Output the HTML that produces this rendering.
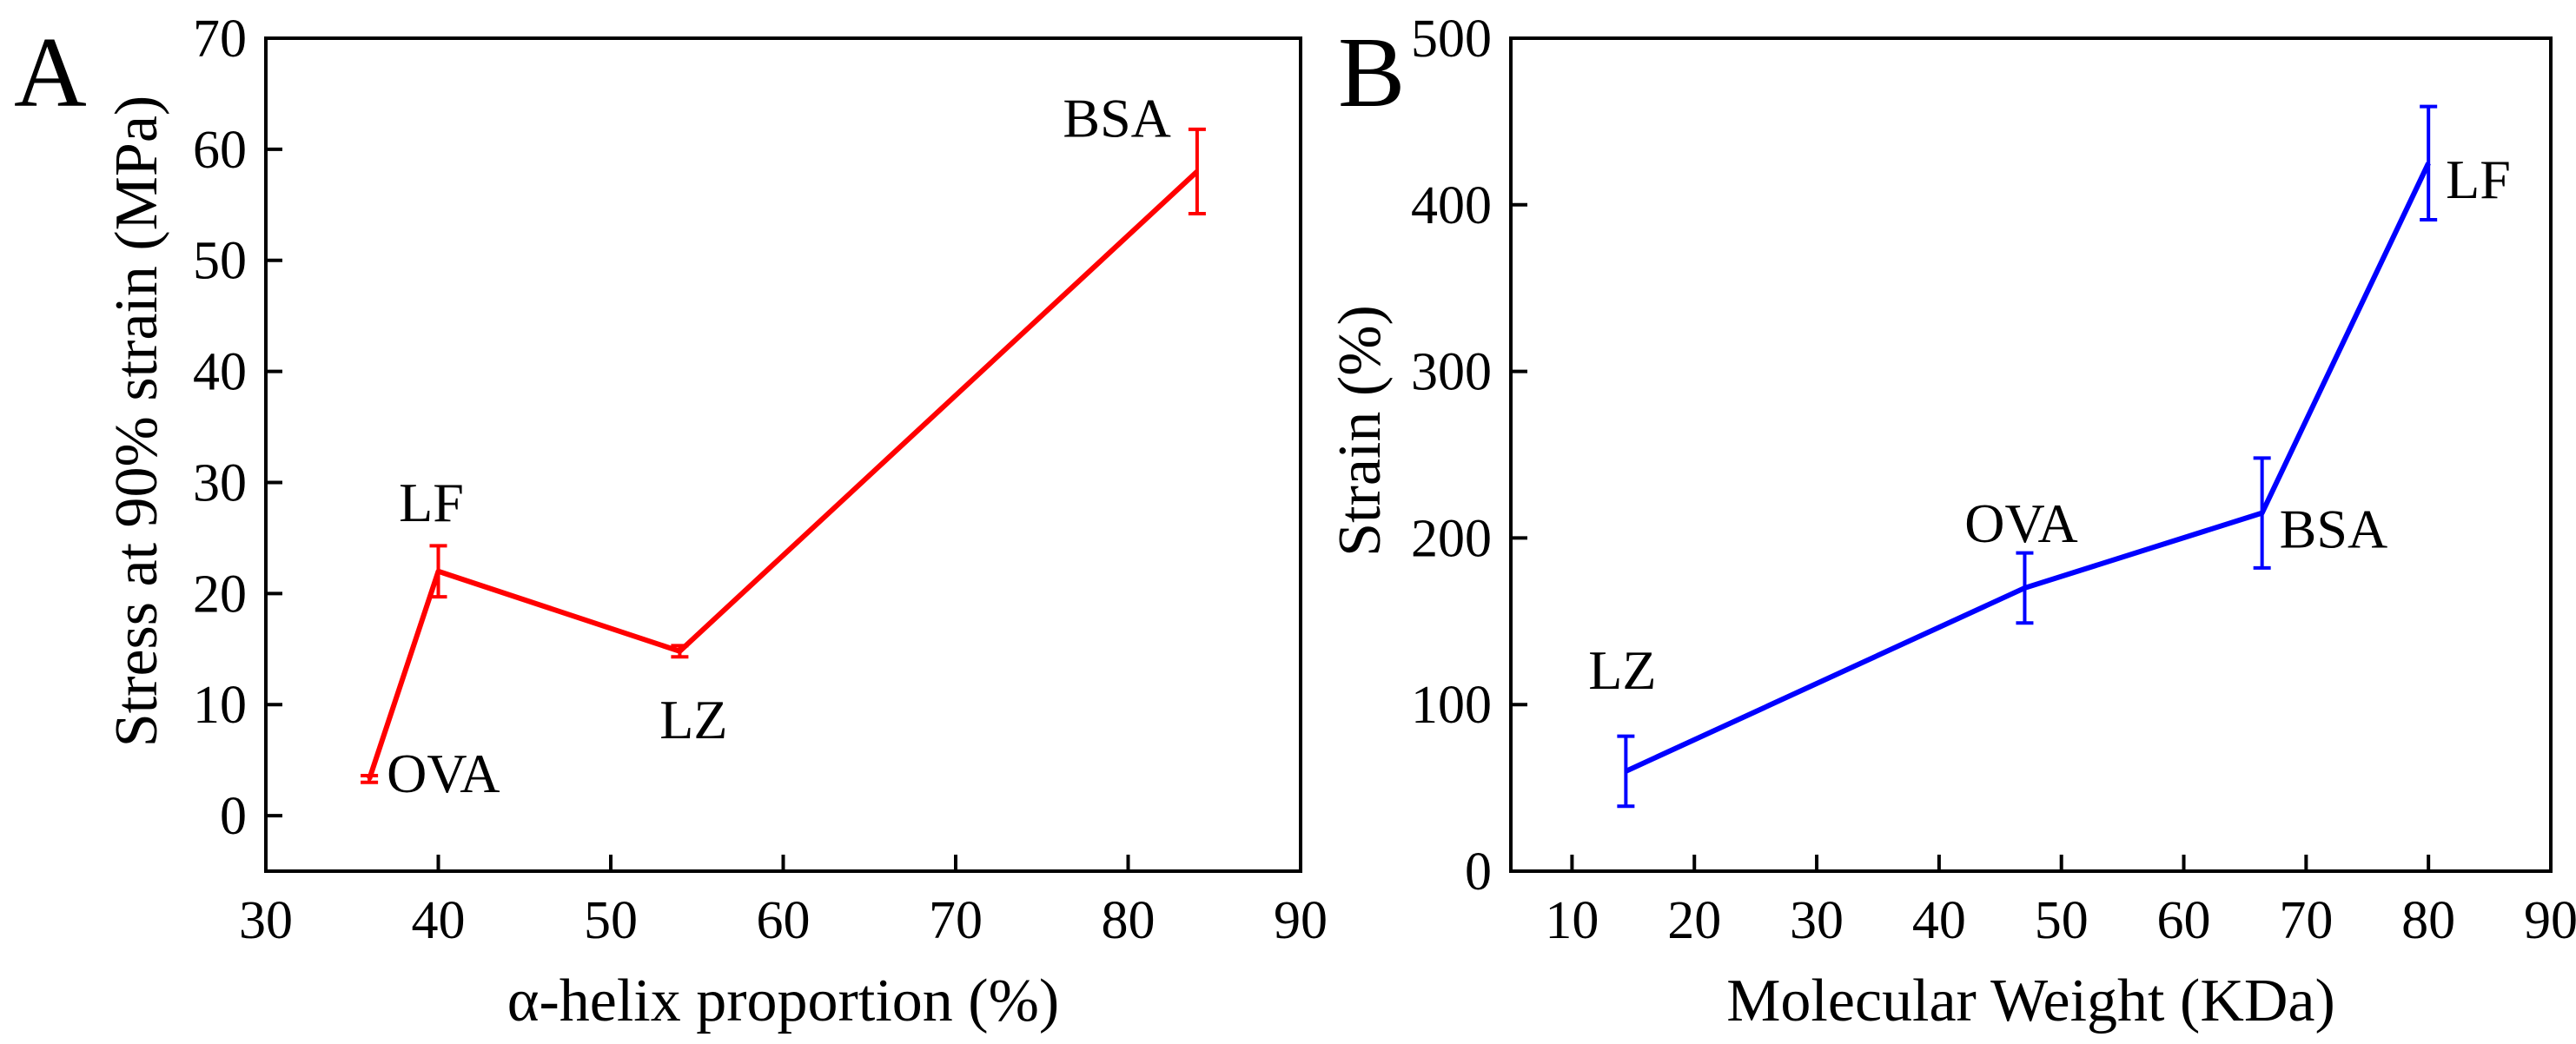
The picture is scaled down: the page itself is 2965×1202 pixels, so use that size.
<!DOCTYPE html>
<html><head><meta charset="utf-8">
<style>
html,body{margin:0;padding:0;background:#fff;}
svg{display:block;font-family:"Liberation Serif",serif;}
</style></head>
<body>
<svg id="fig" width="2965" height="1202" viewBox="0 0 2965 1202" xmlns="http://www.w3.org/2000/svg">
<rect width="2965" height="1202" fill="#fff"/>
<text x="16" y="122" font-size="116">A</text>
<text x="1540" y="122" font-size="116">B</text>
<g id="chartA"></g>
<g id="chartB"></g>
</svg>
<script>
// Panel A data
const aNames = ["OVA","LF","LZ","BSA"];
const aX = [36, 40, 54, 84];
const aY = [3.3, 22, 14.8, 58];
const aErr = [0.3, 2.3, 0.5, 3.8];
const aXTicks = [30,40,50,60,70,80,90];
const aYTicks = [0,10,20,30,40,50,60,70];
// Panel B data
const bNames = ["LZ","OVA","BSA","LF"];
const bX = [14.4, 47, 66.4, 80];
const bY = [60, 170, 215, 425];
const bErr = [21, 21, 33, 34];
const bXTicks = [10,20,30,40,50,60,70,80,90];
const bYTicks = [0,100,200,300,400,500];

const NS="http://www.w3.org/2000/svg";
function mk(parent, tag, attrs){const e=document.createElementNS(NS,tag);for(const k in attrs)e.setAttribute(k,attrs[k]);parent.appendChild(e);return e;}

function drawChart(g, cfg){
  const {L,R,T,B,xmin,xmax,ymin,ymax,xs,ys,errs,names,color,xticks,yticks,labelPos,xtitle,ytitle,ytX,ytY,prefix}=cfg;
  const sx=v=>L+(v-xmin)/(xmax-xmin)*(R-L);
  const sy=v=>B-(v-ymin)/(ymax-ymin)*(B-T);
  xticks.forEach(t=>{
    const x=sx(t);
    if(x>L+2&&x<R-2){
      const tk=mk(g,'line',{x1:x,x2:x,y1:B,y2:B-19,stroke:'#000','stroke-width':4});
      
      
    }
    const tl=mk(g,'text',{x:x,y:1080,'font-size':62,'text-anchor':'middle'});
    tl.textContent=t;
    
    
  });
  yticks.forEach(t=>{
    const y=sy(t);
    if(y>T+2&&y<B-2){
      const tk=mk(g,'line',{x1:L,x2:L+19,y1:y,y2:y,stroke:'#000','stroke-width':4});
      
      
    }
    const tl=mk(g,'text',{x:L-22,y:y+21,'font-size':62,'text-anchor':'end'});
    tl.textContent=t;
    
    
  });
  const fr=mk(g,'rect',{x:L,y:T,width:R-L,height:B-T,fill:'none',stroke:'#000','stroke-width':4});
  
  
  const pts=xs.map((v,i)=>sx(v)+','+sy(ys[i])).join(' ');
  const pl=mk(g,'polyline',{points:pts,fill:'none',stroke:color,'stroke-width':6,'stroke-linejoin':'round'});
  
  
  xs.forEach((v,i)=>{
    const x=sx(v), y1=sy(ys[i]+errs[i]), y2=sy(ys[i]-errs[i]);
    const eg=mk(g,'g',{stroke:color,'stroke-width':4});
    
    
    mk(eg,'line',{x1:x,x2:x,y1:y1,y2:y2});
    mk(eg,'line',{x1:x-10,x2:x+10,y1:y1,y2:y1});
    mk(eg,'line',{x1:x-10,x2:x+10,y1:y2,y2:y2});
    const lp=labelPos[i];
    const lb=mk(g,'text',{x:sx(v)+lp[0],y:sy(ys[i])+lp[1],'font-size':64,'text-anchor':lp[2]});
    lb.textContent=names[i];
    
    
  });
  const xt=mk(g,'text',{x:(L+R)/2,y:1175,'font-size':70,'text-anchor':'middle'});
  xt.textContent=xtitle;
  
  
  const yt=mk(g,'text',{x:ytX,y:ytY,'font-size':70,'text-anchor':'middle',transform:`rotate(-90 ${ytX} ${ytY})`});
  yt.textContent=ytitle;
  
  
}

drawChart(document.getElementById('chartA'),{
  prefix:'a-',L:306,R:1497,T:44,B:1003,xmin:30,xmax:90,ymin:-5,ymax:70,
  xs:aX,ys:aY,errs:aErr,names:aNames,color:'#ff0000',xticks:aXTicks,yticks:aYTicks,
  labelPos:[[20,15,'start'],[-8,-58,'middle'],[16,100,'middle'],[-30,-40,'end']],
  xtitle:'α-helix proportion (%)',ytitle:'Stress at 90% strain (MPa)',ytX:180,ytY:485
});
drawChart(document.getElementById('chartB'),{
  prefix:'b-',L:1739,R:2936,T:44,B:1003,xmin:5,xmax:90,ymin:0,ymax:500,
  xs:bX,ys:bY,errs:bErr,names:bNames,color:'#0000ff',xticks:bXTicks,yticks:bYTicks,
  labelPos:[[-4,-95,'middle'],[-4,-53,'middle'],[20,40,'start'],[20,40,'start']],
  xtitle:'Molecular Weight (KDa)',ytitle:'Strain (%)',ytX:1588,ytY:496
});
</script>
</body></html>
